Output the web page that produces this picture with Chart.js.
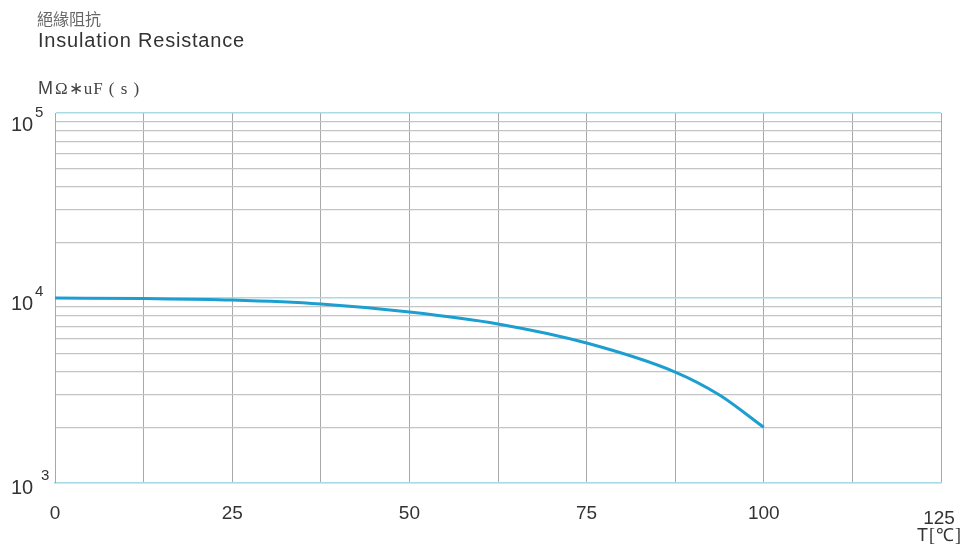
<!DOCTYPE html>
<html>
<head>
<meta charset="utf-8">
<script src="https://cdn.jsdelivr.net/npm/chart.js@4/dist/chart.umd.min.js"></script>
<style>
  html, body { margin: 0; padding: 0; background: #fff; }
  #wrap { width: 970px; height: 548px; position: relative; }
</style>
</head>
<body>
<div id="wrap"><canvas id="myChart"></canvas></div>
<script>
// temperature (°C) and insulation resistance (MΩ*uF)
var temps = [0, 12.5, 25, 37.5, 50, 62.5, 75, 87.5, 93.75, 100];
var resistance = [10000, 9930, 9750, 9280, 8400, 7240, 5710, 3980, 2990, 2000];

var xGrid = [0, 12.5, 25, 37.5, 50, 62.5, 75, 87.5, 100, 112.5, 125];
var xLabels = [0, 25, 50, 75, 100];
var yGrid = [1000, 2000, 3000, 4000, 5000, 6000, 7000, 8000, 9000,
             10000, 20000, 30000, 40000, 50000, 60000, 70000, 80000, 90000, 100000];
var yLabels = [[100000, "5"], [10000, "4"], [1000, "3"]];

var points = [];
temps.forEach(function (t, i) {
  points.push({ x: t, y: resistance[i] });
});

var decadeColor = "#a9dbe6";
var lineColor = "#a8a8a8";

var textPlugin = {
  id: "texts",
  afterDraw: function (chart) {
    var c = chart.ctx;
    var xs = chart.scales.x;
    var ys = chart.scales.y;
    c.save();
    c.textBaseline = "alphabetic";
    c.textAlign = "left";

    c.fillStyle = "#666";
    c.font = "16px 'Noto Sans CJK TC'";
    c.fillText("絕緣阻抗", 37, 25);

    c.fillStyle = "#333";
    c.font = "20px 'Liberation Sans'";
    c.letterSpacing = "0.8px";
    c.fillText("Insulation Resistance", 38, 47);
    c.letterSpacing = "0px";

    c.fillStyle = "#444";
    c.font = "18px 'Liberation Sans'";
    c.fillText("M", 38, 94);
    c.font = "17px 'Liberation Serif'";
    c.letterSpacing = "1px";
    c.fillText("Ω∗uF ( s )", 55, 94);
    c.letterSpacing = "0px";

    // y labels 10^n
    yLabels.forEach(function (l) {
      var py = ys.getPixelForValue(l[0]);
      c.fillStyle = "#333";
      c.font = "20px 'Liberation Sans'";
      c.textAlign = "left";
      var dy = l[1] === "5" ? 18 : (l[1] === "4" ? 12 : 11);
      c.fillText("10", 11, py + dy);
      c.font = "15px 'Liberation Sans'";
      c.fillText(l[1], l[1] === "3" ? 41 : 35, py + dy - 14);
    });

    // x labels
    c.fillStyle = "#333";
    c.font = "19px 'Liberation Sans'";
    c.textAlign = "center";
    xLabels.forEach(function (v) {
      c.fillText(String(v), xs.getPixelForValue(v), 519);
    });
    c.fillText("125", xs.getPixelForValue(125) - 2, 524);
    c.font = "18px 'Liberation Sans'";
    c.textAlign = "left";
    c.fillText("T", 917, 541);
    c.font = "18px 'Liberation Serif'";
    c.letterSpacing = "1px";
    c.fillText("[℃]", 929, 541);
    c.restore();
  }
};

var ctx = document.getElementById("myChart");
var chart = new Chart(ctx, {
  type: "line",
  data: {
    datasets: [{
      data: points,
      borderColor: "#1c9fd0",
      borderWidth: 3,
      pointRadius: 0,
      fill: false,
      cubicInterpolationMode: "monotone"
    }]
  },
  options: {
    responsive: true,
    maintainAspectRatio: false,
    animation: false,
    events: [],
    layout: { padding: { left: 55, right: 29, top: 113, bottom: 65 } },
    plugins: { legend: { display: false }, tooltip: { enabled: false } },
    scales: {
      x: {
        type: "linear",
        min: 0,
        max: 125,
        afterBuildTicks: function (axis) {
          axis.ticks = xGrid.map(function (v) { return { value: v }; });
        },
        ticks: { display: false },
        grid: { color: lineColor, lineWidth: 1, drawTicks: false },
        border: { color: decadeColor, width: 1.5 }
      },
      y: {
        type: "logarithmic",
        min: 1000,
        max: 100000,
        afterBuildTicks: function (axis) {
          axis.ticks = yGrid.map(function (v) { return { value: v }; });
        },
        ticks: { display: false },
        grid: {
          drawTicks: false,
          color: function (c) {
            var v = c.tick ? c.tick.value : 0;
            return (v === 1000 || v === 10000 || v === 100000) ? decadeColor : "#c4c4c4";
          },
          lineWidth: function (c) {
            var v = c.tick ? c.tick.value : 0;
            return (v === 10000 || v === 100000) ? 1.5 : 1.2;
          }
        },
        border: { color: lineColor, width: 1 }
      }
    }
  },
  plugins: [textPlugin]
});
</script>
</body>
</html>
